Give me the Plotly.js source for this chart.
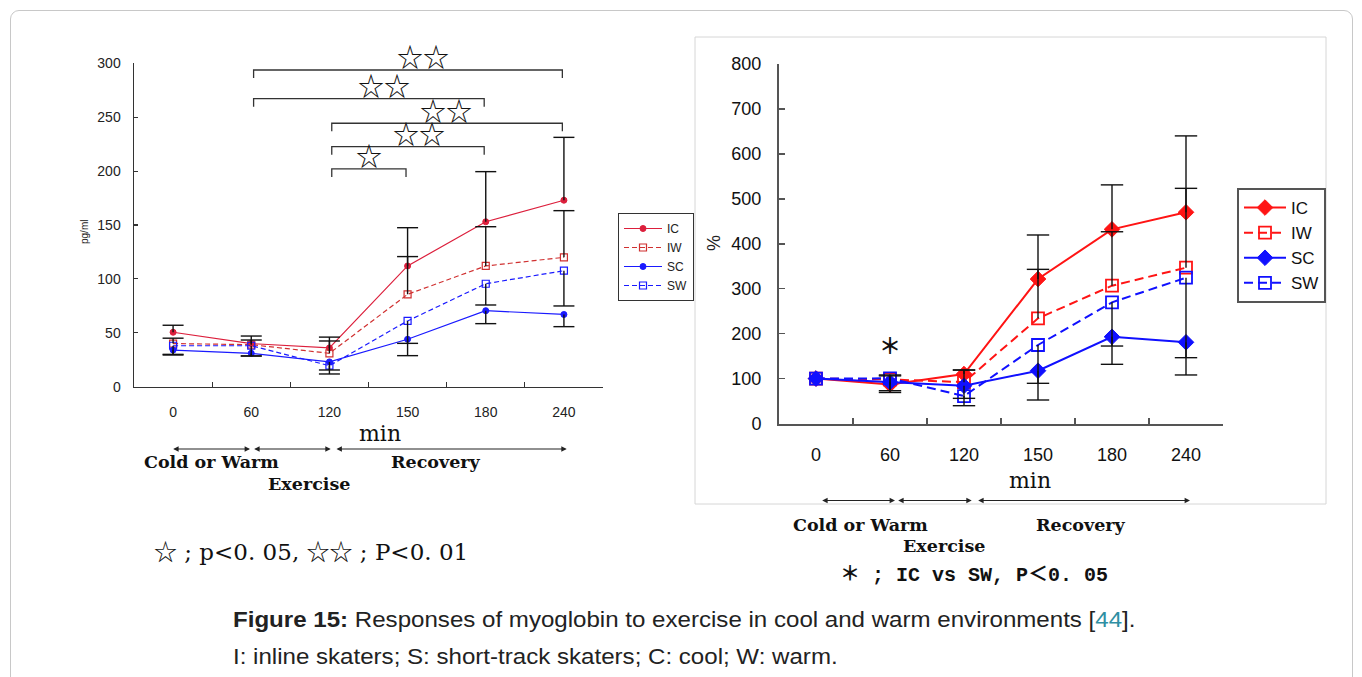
<!DOCTYPE html>
<html>
<head>
<meta charset="utf-8">
<script src="https://cdn.plot.ly/plotly-3.0.1.min.js"></script>
<style>
  html, body { margin: 0; padding: 0; background: #fff; }
  #wrap { position: relative; width: 1362px; height: 677px; overflow: hidden; }
  #chart { position: absolute; left: 0; top: 0; width: 1362px; height: 677px; }
  #frame { position: absolute; left: 10px; top: 10px; width: 1341px; height: 720px;
           border: 1px solid #c8c8c8; border-radius: 9px; pointer-events: none; }
  #caption { position: absolute; left: 233px; top: 601px; white-space: nowrap;
             font-family: "Liberation Sans", Arial, sans-serif; font-size: 22px;
             line-height: 37px; color: #222; transform: scaleX(1.095); transform-origin: 0 0; }
  #caption .ref { color: #2f8fa3; }
</style>
</head>
<body>
<div id="wrap">
  <div id="chart"></div>
  <div id="frame"></div>
  <div id="caption">
    <b>Figure 15:</b> Responses of myoglobin to exercise in cool and warm environments [<span class="ref">44</span>].<br>
    I: inline skaters; S: short-track skaters; C: cool; W: warm.
  </div>
</div>
<script>
// Sampling times (min)
const minutes = ['0', '60', '120', '150', '180', '240'];
const seriesNames = ['IC', 'IW', 'SC', 'SW'];

// Serum myoglobin, pg/ml (mean)
const icConc = [50.5, 40, 36, 112, 153, 173];
const iwConc = [40, 39, 31, 85.7, 112, 120];
const scConc = [34, 31, 23, 44, 70.5, 67];
const swConc = [38, 38, 19.5, 61, 95.5, 107.6];
// SD, pg/ml (drawn upward for inline groups, downward for short-track groups)
const icConcSD = [6.5, 7, 10, 35.5, 46.5, 58.3];
const iwConcSD = [5, 4.3, 11.4, 35, 36.4, 43.3];
const scConcSD = [4.6, 2.5, 7.5, 15.2, 12, 11.3];
const swConcSD = [8, 9.5, 7.7, 20.8, 19.7, 32.7];

// Myoglobin relative to the 0-min value, %
const icPct = [100, 87, 110, 321.5, 432, 470];
const iwPct = [100, 98, 92, 234, 306.7, 346.7];
const scPct = [100, 91.7, 84, 117.5, 193, 180.7];
const swPct = [100, 100.5, 61, 174.7, 269.7, 324.4];
const icPctSD = [0, 21, 9, 98, 99, 170];
const iwPctSD = [0, 8, 27, 109, 120, 176.6];
const scPctSD = [0, 22.7, 28, 65.2, 61.3, 34.2];
const swPctSD = [0, 27.5, 21.4, 85.3, 97.3, 216.4];

// Significant differences between time points (left panel)
const sigPairs = [['60', '240'], ['60', '180'], ['120', '240'], ['120', '180'], ['120', '150']];
const sigStars = ['☆☆', '☆☆', '☆☆', '☆☆', '☆'];

// ---------------------------------------------------------------------------
const W = 1362, H = 677;
const fx = p => p / W;
const fy = p => 1 - p / H;

const RED_L = '#dc1f3c', RED_LD = '#d03030', BLUE_L = '#1a1aff';
const RED_R = '#ff1414', BLUE_R = '#1010ff';

const leftStyles = {
  IC: { color: RED_L,  dash: 'solid',   symbol: 'circle',      fill: RED_L,  ms: 6, lw: 1.2, mlw: 1 },
  IW: { color: RED_LD, dash: '5px,3px', symbol: 'square-open', fill: RED_LD, ms: 7, lw: 1.2, mlw: 1.2 },
  SC: { color: BLUE_L, dash: 'solid',   symbol: 'circle',      fill: BLUE_L, ms: 6, lw: 1.2, mlw: 1 },
  SW: { color: BLUE_L, dash: '5px,3px', symbol: 'square-open', fill: BLUE_L, ms: 7, lw: 1.2, mlw: 1.2 }
};
const rightStyles = {
  IC: { color: RED_R,  dash: 'solid',    symbol: 'diamond',     fill: RED_R,  ms: 12, lw: 2, mlw: 1 },
  IW: { color: RED_R,  dash: '9px,5px',  symbol: 'square-open', fill: RED_R,  ms: 12, lw: 2, mlw: 1.8 },
  SC: { color: BLUE_R, dash: 'solid',    symbol: 'diamond',     fill: BLUE_R, ms: 12, lw: 2, mlw: 1 },
  SW: { color: BLUE_R, dash: '9px,5px',  symbol: 'square-open', fill: BLUE_R, ms: 12, lw: 2, mlw: 1.8 }
};

function seriesTrace(name, y, st, xa, ya, legend) {
  return {
    type: 'scatter', mode: 'lines+markers', name: name,
    x: minutes, y: y, xaxis: xa, yaxis: ya,
    legend: legend, legendgroup: legend + name,
    line: { color: st.color, width: st.lw, dash: st.dash },
    marker: { symbol: st.symbol, size: st.ms, color: st.fill, line: { color: st.color, width: st.mlw } },
    cliponaxis: false, hoverinfo: 'x+y+name'
  };
}

// One-sided SD whisker: a cap at the tip and a bar back to the mean
function whiskerTrace(y, sd, upward, xa, ya, capSize) {
  const tips = y.map((v, i) => sd[i] > 0 ? (upward ? v + sd[i] : v - sd[i]) : null);
  const zeros = sd.map(() => 0);
  return {
    type: 'scatter', mode: 'markers', x: minutes, y: tips, xaxis: xa, yaxis: ya,
    showlegend: false, hoverinfo: 'skip', cliponaxis: false,
    marker: { symbol: 'line-ew', size: capSize, color: '#111', line: { color: '#111', width: 1.4 } },
    error_y: { type: 'data', symmetric: false,
               array: upward ? zeros : sd, arrayminus: upward ? sd : zeros,
               width: 0, thickness: 1.4, color: '#111' }
  };
}

const leftData = [icConc, iwConc, scConc, swConc];
const leftSD = [icConcSD, iwConcSD, scConcSD, swConcSD];
const rightData = [icPct, iwPct, scPct, swPct];
const rightSD = [icPctSD, iwPctSD, scPctSD, swPctSD];
const upward = [true, true, false, false];

const traces = [];
seriesNames.forEach((n, k) => traces.push(seriesTrace(n, leftData[k], leftStyles[n], 'x', 'y', 'legend')));
seriesNames.forEach((n, k) => traces.push(seriesTrace(n, rightData[k], rightStyles[n], 'x2', 'y2', 'legend2')));
seriesNames.forEach((n, k) => traces.push(whiskerTrace(leftData[k], leftSD[k], upward[k], 'x', 'y', 15)));
seriesNames.forEach((n, k) => traces.push(whiskerTrace(rightData[k], rightSD[k], upward[k], 'x2', 'y2', 16)));

// ---------------------------------------------------------------------------
const axisCommon = {
  showgrid: false, zeroline: false, showline: true, ticks: 'inside', fixedrange: true
};

const shapes = [];
const annotations = [];

// Panel frame around the right chart
shapes.push({ type: 'rect', xref: 'paper', yref: 'paper', x0: fx(695), x1: fx(1326), y0: fy(504), y1: fy(37),
              line: { color: '#d6d6d6', width: 1 } });

// Significance brackets (left chart)
const bracketGeom = [
  { level: 293.8, starX: 3.20 },
  { level: 267.2, starX: 2.70 },
  { level: 244.4, starX: 3.49 },
  { level: 222.7, starX: 3.14 },
  { level: 202.0, starX: 2.50 }
];
sigPairs.forEach((pair, k) => {
  const a = minutes.indexOf(pair[0]) + 0.03, b = minutes.indexOf(pair[1]) - 0.02;
  const g = bracketGeom[k], drop = 7.5;
  shapes.push({ type: 'path', xref: 'x', yref: 'y',
    path: `M ${a},${g.level - drop} L ${a},${g.level} L ${b},${g.level} L ${b},${g.level - drop}`,
    line: { color: '#333', width: 1.3 } });
  annotations.push({ xref: 'x', yref: 'y', x: g.starX, y: g.level, yshift: 14, text: sigStars[k],
    showarrow: false, borderpad: 0,
    font: { family: 'Noto Sans CJK JP, DejaVu Sans', size: 26, color: '#111' } });
});

// Phase arrows under the time axes
function phaseArrow(x0, x1, y) {
  annotations.push({ xref: 'paper', yref: 'paper', x: fx(x1), y: fy(y), ax: -(x1 - x0), ay: 0,
    axref: 'pixel', ayref: 'pixel', text: ' ', font: { size: 1 }, showarrow: true,
    arrowhead: 2, startarrowhead: 2, arrowside: 'end+start', arrowsize: 0.9, startarrowsize: 0.9,
    arrowwidth: 1.2, arrowcolor: '#222', standoff: 0, startstandoff: 0 });
}
[[171.7, 250], [252.7, 330.7], [335, 566.7]].forEach(s => phaseArrow(s[0], s[1], 449));
[[820.7, 895], [896.7, 971.7], [976.7, 1190]].forEach(s => phaseArrow(s[0], s[1], 500.5));

function label(text, x, y, font, extra) {
  annotations.push(Object.assign({ xref: 'paper', yref: 'paper', x: fx(x), y: fy(y), text: text,
    showarrow: false, xanchor: 'center', yanchor: 'middle', font: font }, extra || {}));
}
const serifBold = { family: 'DejaVu Serif, Liberation Serif, serif', size: 17.5, color: '#111', weight: 'bold' };
const serifMin = { family: 'DejaVu Serif, Liberation Serif, serif', size: 22, color: '#111' };

label('Cold or Warm', 211, 462.3, serifBold);
label('Exercise', 309, 484, serifBold);
label('Recovery', 436, 462.3, serifBold);
label('Cold or Warm', 860, 525, serifBold);
label('Exercise', 944, 545.7, serifBold);
label('Recovery', 1081, 525, serifBold);
label('min', 380, 433, serifMin);
label('min', 1030, 480, serifMin);
label('pg/ml', 84, 232, { family: 'Liberation Sans, Arial', size: 10, color: '#222' }, { textangle: -90 });
label('%', 714, 243, { family: 'Liberation Sans, Arial', size: 18, color: '#222' }, { textangle: -90 });
label('☆ ; p&lt;0. 05, ☆☆ ; P&lt;0. 01', 311, 552,
      { family: 'DejaVu Serif, Noto Sans CJK JP, serif', size: 23, color: '#111' });
label('＊ ; IC vs SW, P＜0. 05', 974, 575,
      { family: 'Liberation Mono, Noto Sans CJK JP, monospace', size: 20, color: '#111', weight: 'bold' });

// IC vs SW difference at 60 min (right chart)
annotations.push({ xref: 'x2', yref: 'y2', x: 1, y: 177, text: '＊', showarrow: false,
  font: { family: 'Noto Sans CJK JP, DejaVu Sans', size: 22, color: '#111', weight: 'bold' } });

const layout = {
  width: W, height: H, margin: { l: 0, r: 0, t: 0, b: 0 },
  paper_bgcolor: 'rgba(0,0,0,0)', plot_bgcolor: 'rgba(0,0,0,0)',
  font: { family: 'Liberation Sans, Arial, sans-serif', color: '#222' },
  showlegend: true,
  xaxis: Object.assign({}, axisCommon, {
    type: 'category', categoryorder: 'array', categoryarray: minutes,
    domain: [fx(134), fx(603)], range: [-0.5, 5.5], anchor: 'y',
    tickson: 'boundaries', ticklen: 5, tickwidth: 1.2, tickcolor: '#333',
    linecolor: '#333', linewidth: 1.5, tickfont: { size: 14, color: '#222' }, ticklabelstandoff: 12 }),
  yaxis: Object.assign({}, axisCommon, {
    domain: [fy(386.7), fy(63.3)], range: [0, 300], dtick: 50, anchor: 'x',
    ticklen: 4, tickwidth: 1.2, tickcolor: '#333', linecolor: '#333', linewidth: 1.5,
    tickfont: { size: 14, color: '#222' }, ticklabelstandoff: 9 }),
  xaxis2: Object.assign({}, axisCommon, {
    type: 'category', categoryorder: 'array', categoryarray: minutes,
    domain: [fx(779), fx(1223)], range: [-0.5, 5.5], anchor: 'y2',
    tickson: 'boundaries', ticklen: 6, tickwidth: 1.5, tickcolor: '#555',
    linecolor: '#555', linewidth: 2, tickfont: { size: 18, color: '#111' }, ticklabelstandoff: 14 }),
  yaxis2: Object.assign({}, axisCommon, {
    domain: [fy(423.5), fy(64)], range: [0, 800], dtick: 100, anchor: 'x2',
    ticklen: 6, tickwidth: 1.5, tickcolor: '#555', linecolor: '#555', linewidth: 2,
    tickfont: { size: 18, color: '#111' }, ticklabelstandoff: 12 }),
  legend: { x: fx(618), y: fy(213), xanchor: 'left', yanchor: 'top', bgcolor: '#fff',
            bordercolor: '#333', borderwidth: 1, font: { size: 12, color: '#222' },
            itemwidth: 38, tracegroupgap: 3, traceorder: 'normal' },
  legend2: { x: fx(1237), y: fy(188), xanchor: 'left', yanchor: 'top', bgcolor: '#fff',
             bordercolor: '#555', borderwidth: 2, font: { size: 17, color: '#111' },
             itemwidth: 42, tracegroupgap: 1, traceorder: 'normal' },
  shapes: shapes,
  annotations: annotations
};

Plotly.newPlot('chart', traces, layout, { displayModeBar: false, staticPlot: true });
</script>
</body>
</html>
